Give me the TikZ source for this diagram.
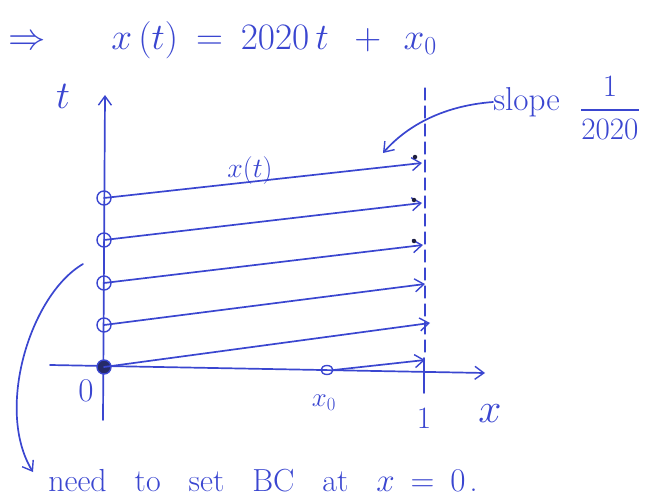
\documentclass[tikz,border=0pt]{standalone}
\usepackage{amsmath}
\usetikzlibrary{arrows.meta,shapes.geometric}
\definecolor{pen}{RGB}{58,70,208}
\definecolor{ink}{RGB}{30,30,60}
\begin{document}
\begin{tikzpicture}[x=1pt,y=-1pt,
  pen/.style={draw=pen,line width=1.7pt,line cap=round},
  vtip/.style={-{Straight Barb[length=9pt,width=13pt,line width=1.4pt]}},
  lbl/.style={text=pen,inner sep=0pt,font=\fontsize{24}{28}\selectfont},
  sz/.style={scale=#1,transform shape},
  ic/.style={circle,draw=pen,line width=1.4pt,minimum size=14pt,inner sep=0pt},
  blot/.style={circle,fill=ink,inner sep=0pt,minimum size=4.5pt}]
\useasboundingbox (0,0) rectangle (645,500);
% title equation
\node[lbl,sz=1.5,anchor=west] (eq) at (8,40)
  {$\Rightarrow\hspace{37pt}x\,(t)\hspace{12pt}{=}\hspace{12pt}2020\,t\hspace{17pt}{+}\hspace{15pt}x_0$};
% axes
\coordinate (tbot) at (103,420);
\coordinate (ttop) at (105,95);
\coordinate (xl) at (50,365);
\coordinate (xr) at (485,373);
\draw[pen,vtip] (tbot) -- (ttop);
\draw[pen,vtip] (xl) -- (xr);
\node[lbl,sz=1.58] (tl) at (63,96) {$t$};
\node[lbl,sz=1.33] (zero) at (86,391) {$0$};
\node[lbl,sz=1.08] (x0l) at (324,403) {$x_0$};
\node[lbl,sz=1.25] (onel) at (424,418) {$1$};
\node[lbl,sz=1.67] (xlab) at (490,414) {$x$};
% tick and dashed boundary
\coordinate (tk1) at (424,358);
\coordinate (tk2) at (424,393);
\draw[pen] (tk1) -- (tk2);
\coordinate (d1) at (425,88);
\coordinate (d2) at (425,356);
\draw[pen,line width=1.2pt,dash pattern=on 12pt off 6pt] (d1) -- (d2);
% characteristic starting circles
\node[ic] (c1) at (104,198) {};
\node[ic] (c2) at (104,240) {};
\node[ic] (c3) at (104,283) {};
\node[ic] (c4) at (104,325) {};
\node[ic,fill=ink!70!pen] (c5) at (104,367) {};
\node[ellipse,draw=pen,line width=1.4pt,minimum width=12pt,minimum height=9pt,inner sep=0pt] (cx0) at (327,370) {};
% characteristic ends
\coordinate (e1) at (422,163);
\coordinate (e2) at (422,203);
\coordinate (e3) at (423,245);
\coordinate (e4) at (425,284);
\coordinate (e5) at (430,323);
\coordinate (e6) at (425,360);
\draw[pen,vtip] (c1.center) -- (e1);
\draw[pen,vtip] (c2.center) -- (e2);
\draw[pen,vtip] (c3.center) -- (e3);
\draw[pen,vtip] (c4.center) -- (e4);
\draw[pen,vtip] (c5.center) -- (e5);
\draw[pen,vtip] (cx0.east) -- (e6);
% ink blots
\node[blot] (b1) at (415,157) {};
\node[blot] (b2) at (414,200) {};
\node[blot] (b3) at (414,241) {};
\node[lbl,sz=1.12] (xt) at (250,171) {$x(t)$};
% slope annotation
\node[lbl,sz=1.38,anchor=west] (slope) at (493,102) {slope};
\node[lbl,sz=1.25] (frac) at (610,108) {$\dfrac{1}{2020}$};
\coordinate (sa) at (383,153);
\draw[pen,vtip] (slope.west) .. controls (440,106) and (405,128) .. (sa);
% BC note
\node[lbl,sz=1.33,anchor=base west] (bc) at (48,491)
  {need\hspace{21pt}to\hspace{21pt}set\hspace{21pt}BC\hspace{21pt}at\hspace{21pt}$x\hspace{12pt}{=}\hspace{12pt}0$\hspace{3pt}.};
\coordinate (cs) at (83,264);
\draw[pen,vtip] (cs) .. controls (30,295) and (-5,410) .. (33,472);
\end{tikzpicture}
\end{document}
